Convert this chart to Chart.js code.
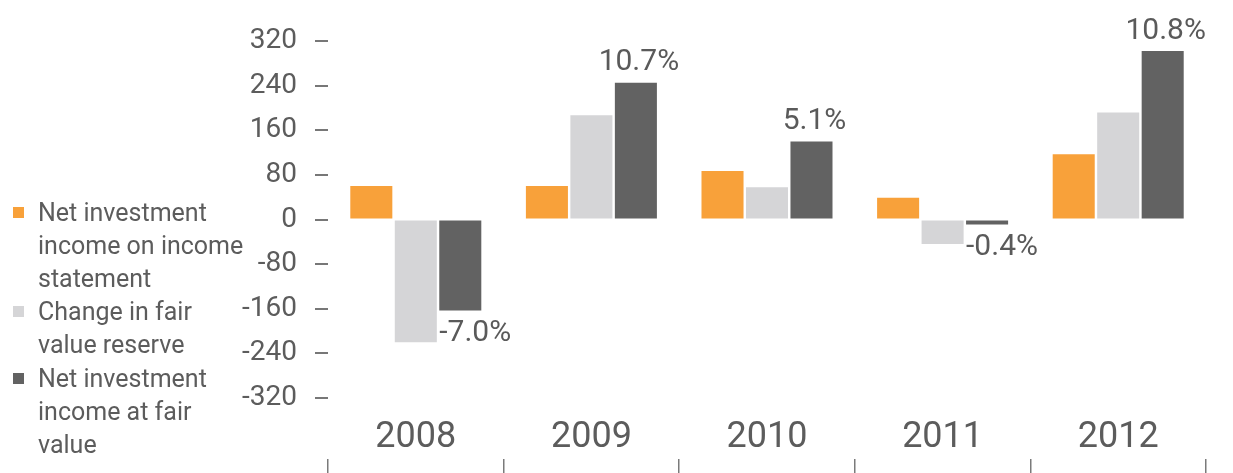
<!DOCTYPE html>
<html>
<head>
<meta charset="utf-8">
<script src="https://cdn.jsdelivr.net/npm/chart.js@4/dist/chart.umd.min.js"></script>
<style>
  html, body { margin: 0; padding: 0; background: #ffffff; }
  #wrap { position: relative; width: 1233px; height: 473px; overflow: hidden; }
  #chart { position: absolute; left: 0; top: 0; }
  #legend { position: absolute; left: 0; top: 0; width: 250px; height: 473px;
            font-family: Roboto, "DejaVu Sans", sans-serif; font-size: 25px; color: #5c5c5c; }
  .item { position: absolute; left: 38px; line-height: 33px; white-space: nowrap; }
  .sw { position: absolute; left: 13px; width: 11px; height: 11px; }
</style>
</head>
<body>
<div id="wrap">
  <canvas id="chart" width="1233" height="473"></canvas>
  <div id="legend"></div>
</div>
<script>
// ---- data ----
const years = ['2008', '2009', '2010', '2011', '2012'];
const netIncomeStatement = [60, 60, 87, 39, 117];
const changeFairValue = [-220, 187, 58, -44, 192];
const netIncomeFairValue = [-163, 245, 140, -9, 302];
const returnLabels = ['-7.0%', '10.7%', '5.1%', '-0.4%', '10.8%'];
const seriesNames = [
  ['Net investment', 'income on income', 'statement'],
  ['Change in fair', 'value reserve'],
  ['Net investment', 'income at fair', 'value']
];
const seriesColors = ['#F8A13A', '#D5D5D7', '#626262'];
const yTicks = [320, 240, 160, 80, 0, -80, -160, -240, -320];

// ---- legend (HTML text) ----
const legend = document.getElementById('legend');
const legendTops = [196, 295, 362];
seriesNames.forEach((lines, i) => {
  const sw = document.createElement('div');
  sw.className = 'sw';
  sw.style.top = (legendTops[i] + 16.5 - 5.5) + 'px';
  sw.style.background = seriesColors[i];
  legend.appendChild(sw);
  const it = document.createElement('div');
  it.className = 'item';
  it.style.top = legendTops[i] + 'px';
  it.innerHTML = lines.join('<br>');
  legend.appendChild(it);
});

const pctPlugin = {
  id: 'pctLabels',
  afterDatasetsDraw(chart) {
    const meta = chart.getDatasetMeta(2);
    const ctx = chart.ctx;
    ctx.save();
    ctx.font = '30px Roboto, "DejaVu Sans", sans-serif';
    ctx.fillStyle = '#5a5a5a';
    ctx.textBaseline = 'middle';
    meta.data.forEach((el, i) => {
      const v = netIncomeFairValue[i];
      if (v >= 0) {
        ctx.textAlign = 'center';
        ctx.fillText(returnLabels[i], el.x + 3, el.y - 20);
      } else {
        ctx.textAlign = 'left';
        ctx.fillText(returnLabels[i], el.x - el.width / 2, el.y + 23);
      }
    });
    ctx.restore();
  }
};

Chart.defaults.font.family = 'Roboto, "DejaVu Sans", sans-serif';
Chart.defaults.color = '#5c5c5c';

new Chart(document.getElementById('chart'), {
  type: 'bar',
  data: {
    labels: years,
    datasets: [
      { label: seriesNames[0].join(' '), data: netIncomeStatement, backgroundColor: seriesColors[0] },
      { label: seriesNames[1].join(' '), data: changeFairValue, backgroundColor: seriesColors[1] },
      { label: seriesNames[2].join(' '), data: netIncomeFairValue, backgroundColor: seriesColors[2] }
    ]
  },
  options: {
    responsive: false,
    animation: false,
    devicePixelRatio: 1,
    categoryPercentage: 0.76,
    barPercentage: 0.945,
    layout: { padding: { top: 41, right: 27, bottom: 0, left: 0 } },
    plugins: { legend: { display: false }, tooltip: { enabled: false } },
    scales: {
      x: {
        type: 'category', position: 'bottom', weight: 1, offset: true,
        grid: { display: false, drawTicks: false },
        border: { display: false },
        ticks: { font: { size: 36 }, color: '#5c5c5c', padding: 18, maxRotation: 0, autoSkip: false },
        afterFit(s) { s.height = 61; }
      },
      xt: {
        type: 'category', position: 'bottom', weight: 2, offset: true,
        grid: { display: true, offset: true, drawOnChartArea: false, drawTicks: true, tickLength: 14, color: '#7a7a7a', lineWidth: 1.5 },
        border: { display: false },
        ticks: { display: false },
        afterFit(s) { s.height = 14; }
      },
      y: {
        min: -320, max: 320,
        afterBuildTicks(s) { s.ticks = yTicks.map(v => ({ value: v })); },
        grid: { drawOnChartArea: false, drawTicks: true, tickLength: 13, color: '#777777', lineWidth: 2 },
        border: { display: false },
        ticks: { font: { size: 28 }, color: '#5c5c5c', padding: 18 },
        afterFit(s) { s.width = 328; }
      }
    }
  },
  plugins: [pctPlugin]
});
</script>
</body>
</html>
